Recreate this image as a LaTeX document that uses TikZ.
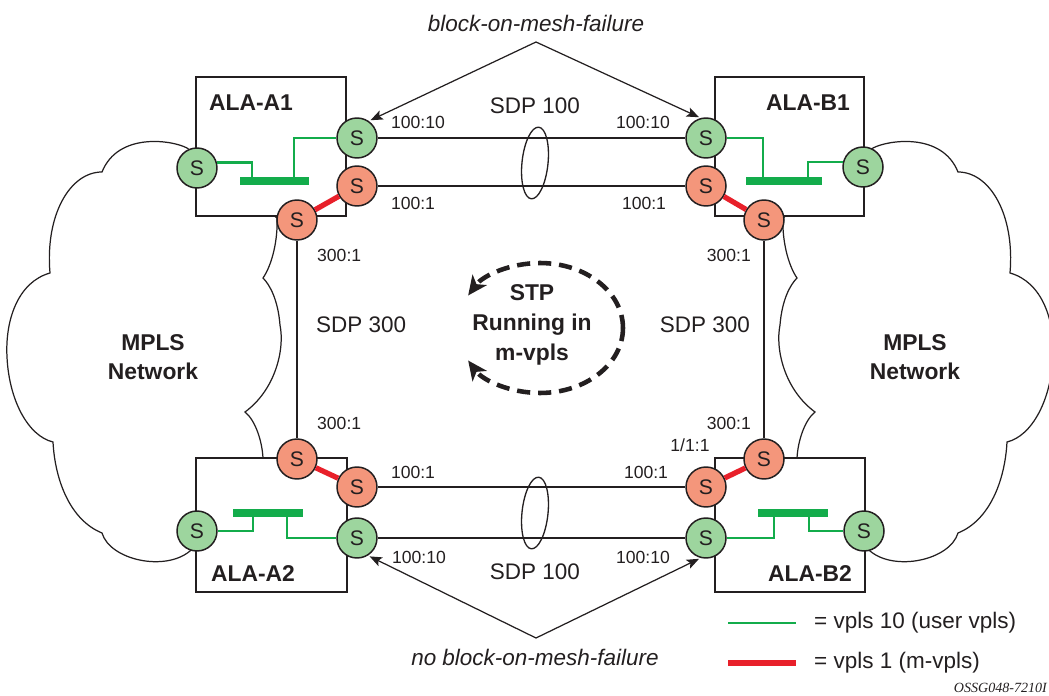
\documentclass[tikz,border=0pt]{standalone}
\usepackage{fontspec}
\setmainfont{Liberation Sans}
\newfontfamily\figidfont{Liberation Serif}
\usetikzlibrary{arrows.meta,positioning,calc}
\definecolor{ink}{HTML}{231F20}
\definecolor{swgreen}{HTML}{9DD59E}
\definecolor{swred}{HTML}{F4967B}
\definecolor{vplsgreen}{HTML}{13AC4B}
\definecolor{vplsred}{HTML}{E8202A}

\tikzset{
  swbase/.style={circle, draw=ink, line width=0.85pt, minimum size=0.8cm, inner sep=0pt,
    font=\fontsize{12}{12}\selectfont, text=ink},
  swu/.style={swbase, fill=swgreen},
  swm/.style={swbase, fill=swred},
  box/.style={draw=ink, line width=1.7pt, fill=white},
  boxlbl/.style={font=\fontsize{13}{15}\selectfont\bfseries, text=ink},
  sdp/.style={draw=ink, line width=0.75pt},
  cloud/.style={draw=ink, line width=0.7pt},
  uvl/.style={vplsgreen, line width=1.3pt},
  ubar/.style={vplsgreen, line width=4.3pt},
  mvl/.style={vplsred, line width=3pt},
  sdplbl/.style={font=\fontsize{10}{12}\selectfont, text=ink},
  biglbl/.style={font=\fontsize{12.8}{15}\selectfont, text=ink},
  note/.style={font=\fontsize{12.8}{15}\selectfont\itshape, text=ink},
  ptr/.style={draw=ink, line width=0.7pt, -{Stealth[length=7pt, width=5.5pt, inset=1.5pt]}, shorten >=1pt},
  stploop/.style={draw=ink, line width=2.6pt, dash pattern=on 7.5pt off 4.5pt,
    -{Stealth[length=11pt, width=10pt, inset=3pt]}},
}

\begin{document}
\begin{tikzpicture}[x=0.02cm, y=-0.02cm]
  \useasboundingbox (0,0) rectangle (1049,696);

  % MPLS clouds, right one mirrored
  \foreach \sx/\dx in {1/0,-1/1060}{
    \begin{scope}[shift={(\dx,0)}, xscale=\sx]
      \draw[cloud] (187,148) .. controls (172,140) and (118,132) .. (102,172)
        .. controls (70,172) and (45,215) .. (50,273)
        .. controls (18,282) and (5,320) .. (7,357)
        .. controls (9,400) and (28,436) .. (53,442)
        .. controls (55,480) and (70,520) .. (102,533)
        .. controls (110,560) and (165,572) .. (190,551)
        -- (263,458) .. controls (262,440) and (255,420) .. (245,412)
        .. controls (275,390) and (285,350) .. (280,325)
        .. controls (278,300) and (270,285) .. (263,278)
        .. controls (272,265) and (278,240) .. (277,218) -- cycle;
    \end{scope}
  }

  % ALA boxes
  \draw[box] (196,77) rectangle (346,216);
  \draw[box] (715,77) rectangle (864,216);
  \draw[box] (196,458) rectangle (347,592);
  \draw[box] (715,458) rectangle (865,592);
  \node[boxlbl] (a1n) at (251,103) {ALA-A1};
  \node[boxlbl] (b1n) at (808,103) {ALA-B1};
  \node[boxlbl] (a2n) at (253,574) {ALA-A2};
  \node[boxlbl] (b2n) at (810,574) {ALA-B2};

  % SAPs and SDP bindings
  \node[swu] (a1c) at (197,168) {S};
  \node[swu] (a1u) at (357,138) {S};
  \node[swm] (a1m) at (357,186) {S};
  \node[swm] (a1s) at (297,220) {S};

  \node[swu] (b1u) at (706,138) {S};
  \node[swm] (b1m) at (706,186) {S};
  \node[swm] (b1s) at (764,220) {S};
  \node[swu] (b1c) at (863,167) {S};

  \node[swm] (a2s) at (297,459) {S};
  \node[swm] (a2m) at (357,487) {S};
  \node[swu] (a2u) at (357,538) {S};
  \node[swu] (a2c) at (197,531) {S};

  \node[swm] (b2s) at (764,459) {S};
  \node[swm] (b2m) at (706,487) {S};
  \node[swu] (b2u) at (706,538) {S};
  \node[swu] (b2c) at (864,531) {S};

  % spoke and mesh SDPs
  \draw[sdp] (a1u) -- (b1u);
  \draw[sdp] (a1m) -- (b1m);
  \draw[sdp] (a2m) -- (b2m);
  \draw[sdp] (a2u) -- (b2u);
  \draw[sdp] (a1s) -- (a2s);
  \draw[sdp] (b1s) -- (b2s);
  \draw[sdp, rotate around={-6:(535,163)}] (535,163) ellipse [x radius=0.26cm, y radius=0.72cm];
  \draw[sdp, rotate around={-6:(535,513)}] (535,513) ellipse [x radius=0.26cm, y radius=0.72cm];

  % m-vpls
  \draw[mvl] (a1s) -- (a1m);
  \draw[mvl] (b1m) -- (b1s);
  \draw[mvl] (a2s) -- (a2m);
  \draw[mvl] (b2m) -- (b2s);

  % user vpls
  \path (252,181) coordinate (a1p) (294,181) coordinate (a1q)
        (763,181) coordinate (b1p) (808,181) coordinate (b1q)
        (253,513) coordinate (a2p) (287,513) coordinate (a2q)
        (774,513) coordinate (b2p) (809,513) coordinate (b2q);
  \draw[uvl] (a1c.15) -| (a1p);
  \draw[uvl] (a1u) -| (a1q);
  \draw[uvl] (b1u) -| (b1p);
  \draw[uvl] (b1c.166) -| (b1q);
  \draw[uvl] (a2c) -| (a2p);
  \draw[uvl] (a2u) -| (a2q);
  \draw[uvl] (b2u) -| (b2p);
  \draw[uvl] (b2c) -| (b2q);
  \draw[ubar] (240,181) -- (309,181);
  \draw[ubar] (746,181) -- (822,181);
  \draw[ubar] (233,513) -- (303,513);
  \draw[ubar] (758,513) -- (828,513);

  % SDP labels
  \node[biglbl] (sdpt) at (535,106) {SDP 100};
  \node[biglbl] (sdpb) at (535,572) {SDP 100};
  \node[sdplbl] at (418,122) {100:10};
  \node[sdplbl] at (643,122) {100:10};
  \node[sdplbl] at (413,203) {100:1};
  \node[sdplbl] at (644,203) {100:1};
  \node[sdplbl] at (413,472) {100:1};
  \node[sdplbl] at (646,472) {100:1};
  \node[sdplbl] at (419,557) {100:10};
  \node[sdplbl] at (643,557) {100:10};
  \node[sdplbl, anchor=west] at (311,255) {300:1};
  \node[sdplbl, anchor=west] at (311,423) {300:1};
  \node[biglbl, anchor=west] at (310,325) {SDP 300};
  \node[sdplbl, anchor=east] at (757,255) {300:1};
  \node[sdplbl, anchor=east] at (757,423) {300:1};
  \node[biglbl, anchor=east] at (756,325) {SDP 300};
  \node[sdplbl] at (690,445) {1/1:1};

  % MPLS
  \node[boxlbl, align=center, font=\fontsize{13}{16.5}\selectfont\bfseries] (mplsl) at (153,357) {MPLS\\Network};
  \node[boxlbl, align=center, font=\fontsize{13}{16.5}\selectfont\bfseries] (mplsr) at (915,357) {MPLS\\Network};

  % block-on-mesh-failure
  \node[note] (bomf) at (536,23) {block-on-mesh-failure};
  \coordinate (topapex) at (536,42);
  \draw[ptr] (topapex) -- (a1u.55);
  \draw[ptr] (topapex) -- (b1u.105);
  \node[note] (nbomf) at (535,657) {no block-on-mesh-failure};
  \coordinate (botapex) at (536,638);
  \draw[ptr] (botapex) -- (a2u.-58);
  \draw[ptr] (botapex) -- (b2u.-105);

  % STP
  \node[boxlbl, align=center, font=\fontsize{13}{17}\selectfont\bfseries] (stp) at (532,325) {STP\\Running in\\m-vpls};
  \coordinate (stpc) at (540,328);
  \draw[stploop] ($(stpc)+(1.66cm,0pt)$) arc[start angle=0, end angle=150, x radius=1.66cm, y radius=1.3cm];
  \draw[stploop] ($(stpc)+(1.66cm,0pt)$) arc[start angle=0, end angle=-150, x radius=1.66cm, y radius=1.3cm];

  % legend
  \coordinate (lg1) at (728,623);
  \coordinate (lg2) at (728,663);
  \draw[uvl] (lg1) -- ++(68,0) coordinate (lg1e);
  \draw[mvl] (lg2) -- ++(68,0) coordinate (lg2e);
  \node[biglbl, anchor=west] (lt1) at (808,623) {= vpls 10 (user vpls)};
  \node[biglbl, anchor=west] (lt2) at (808,663) {= vpls 1 (m-vpls)};

  \node[font=\figidfont\itshape\fontsize{8}{9}\selectfont, text=ink, anchor=east, inner sep=1pt] (figid) at (1049,688) {OSSG048-7210I};
\end{tikzpicture}
\end{document}
